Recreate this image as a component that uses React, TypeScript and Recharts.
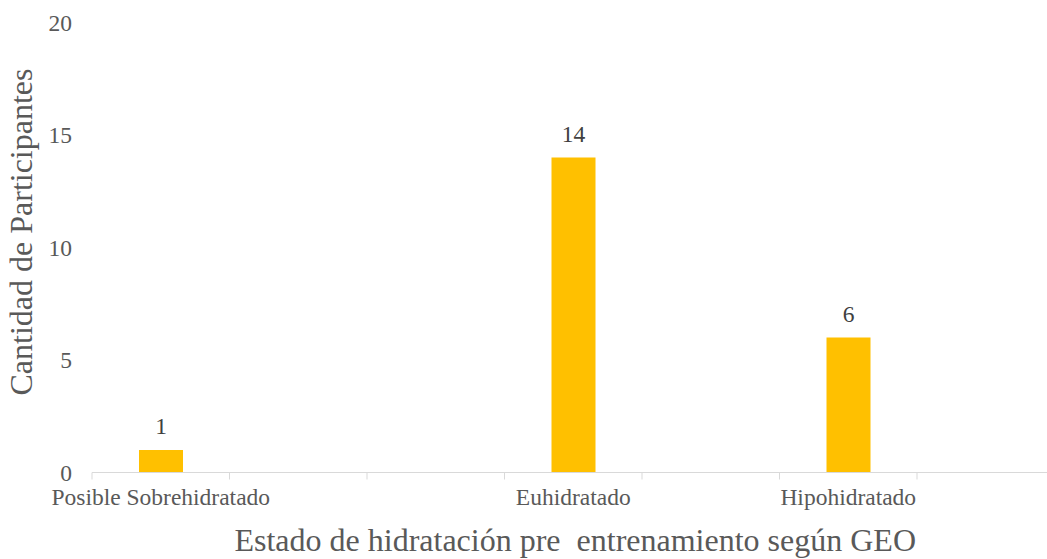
import React from 'react'
import { BarChart, Bar, XAxis, YAxis, LabelList } from 'recharts'

// categorías (las vacías reproducen los huecos del gráfico original)
const categorias = ['Posible Sobrehidratado', '', '', 'Euhidratado', '', 'Hipohidratado', '']
const participantes: (number | null)[] = [1, null, null, 14, null, 6, null]
const yTicks = [0, 5, 10, 15, 20]

const data = categorias.map((c, i) => ({ categoria: c, valor: participantes[i] }))

const FONT = 'Liberation Serif, Tinos, DejaVu Serif, serif'
const GRIS = '#595959'
const EJE = '#d9d9d9'
const TICK_LEN = 7
const TICK_GAP = 9
const FS = 23.5
const FS_TITULO = 32

// marca de separación en el borde de cada categoría (estilo Excel) + etiqueta centrada
const CategoryTick = (props: any) => {
  const { x, y, payload, index, visibleTicksCount } = props
  const half = payload.offset || 0
  const y0 = y - TICK_GAP
  const yAxis = y0 - TICK_LEN
  return (
    <g>
      <line x1={x - half} x2={x - half} y1={yAxis} y2={y0} stroke={EJE} />
      {index === visibleTicksCount - 1 && (
        <line x1={x + half} x2={x + half} y1={yAxis} y2={y0} stroke={EJE} />
      )}
      <text x={x} y={y} dy="0.71em" textAnchor="middle" fill={GRIS} fontSize={FS} style={{ fontFamily: FONT }}>
        {payload.value}
      </text>
    </g>
  )
}

export default function App() {
  return (
    <div style={{ position: 'fixed', top: 0, left: 0, width: 1047, height: 559, overflow: 'hidden', background: '#fff', fontFamily: FONT }}>
      <BarChart
        width={1060}
        height={559}
        data={data}
        margin={{ top: 22.5, right: 5.5, bottom: 0, left: 0 }}
      >
        <XAxis
          dataKey="categoria"
          height={86.5}
          interval={0}
          axisLine={{ stroke: EJE }}
          tickLine={false}
          tickSize={TICK_LEN}
          tickMargin={TICK_GAP}
          tick={<CategoryTick />}
          label={(props: any) => {
            const vb = props.viewBox || {}
            return (
              <text
                x={vb.x + vb.width / 2 + 2}
                y={551}
                textAnchor="middle"
                fill={GRIS}
                fontSize={FS_TITULO}
                style={{ fontFamily: FONT }}
              >
                Estado de hidratación pre{'\u00a0'} entrenamiento según GEO
              </text>
            )
          }}
        />
        <YAxis
          width={92}
          domain={[0, 20]}
          ticks={yTicks}
          axisLine={false}
          tickLine={false}
          tickMargin={14}
          tick={{ fill: GRIS, fontSize: FS, style: { fontFamily: FONT } }}
          label={() => (
            <text
              x={21}
              y={232}
              transform="rotate(-90 21 232)"
              textAnchor="middle"
              dominantBaseline="central"
              fill={GRIS}
              fontSize={FS_TITULO}
              style={{ fontFamily: FONT }}
            >
              Cantidad de Participantes
            </text>
          )}
        />
        <Bar dataKey="valor" fill="#FFC000" barSize={44} isAnimationActive={false}>
          <LabelList dataKey="valor" position="top" offset={16} fill="#404040" fontSize={FS} style={{ fontFamily: FONT }} />
        </Bar>
      </BarChart>
    </div>
  )
}
